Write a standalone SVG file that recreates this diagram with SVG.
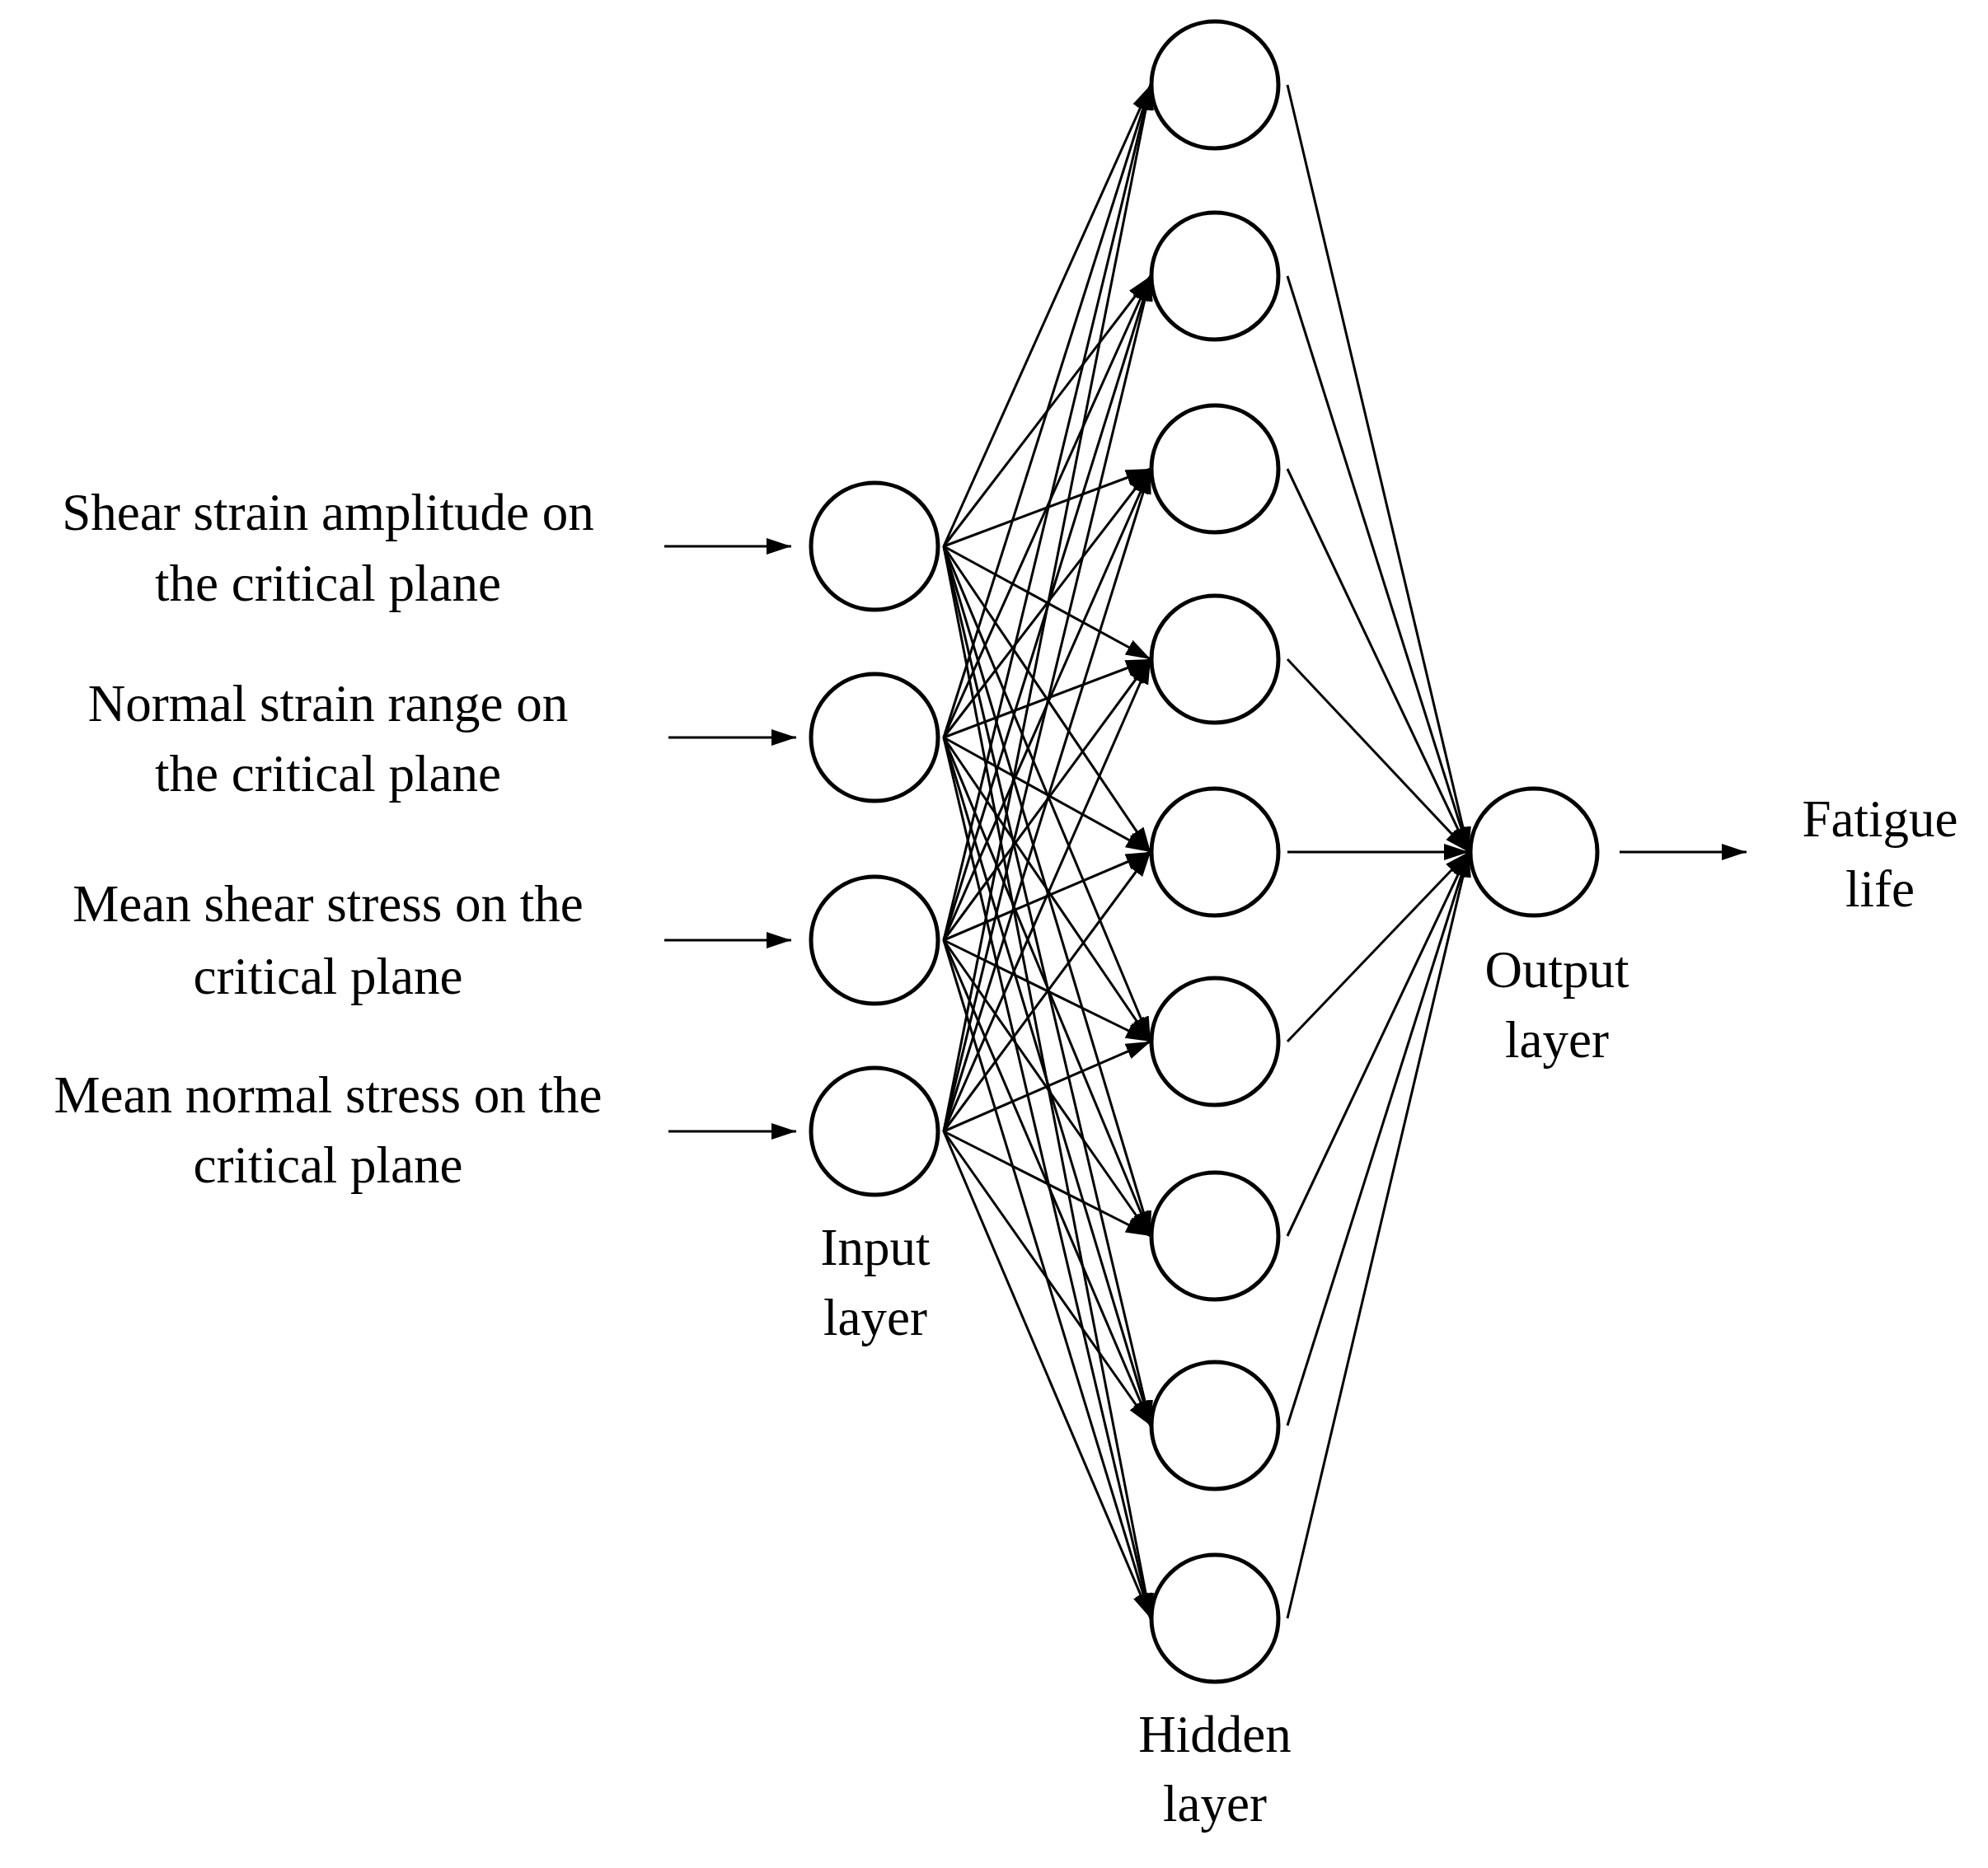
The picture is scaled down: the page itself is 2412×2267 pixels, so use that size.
<svg xmlns="http://www.w3.org/2000/svg" width="2412" height="2267" viewBox="0 0 2412 2267">
<style>
.n{fill:#fff;stroke:#000;stroke-width:5}
.c line{stroke:#000;stroke-width:3;marker-end:url(#ah)}
text{font-family:"Liberation Serif","Times New Roman",serif;font-size:63px;fill:#000;text-anchor:middle}
</style>
<defs><marker id="ah" markerUnits="userSpaceOnUse" markerWidth="32" markerHeight="22" refX="30" refY="10" orient="auto"><path d="M0,0 L30,10 L0,20 z" fill="#000"/></marker></defs>
<rect width="2412" height="2267" fill="#fff"/>
<g class="c" id="connectors">
<line x1="806" y1="663" x2="960" y2="663"/>
<line x1="811" y1="895" x2="966" y2="895"/>
<line x1="806" y1="1141" x2="960" y2="1141"/>
<line x1="811" y1="1373" x2="966" y2="1373"/>
<line x1="1965" y1="1034" x2="2119" y2="1034"/>
<line x1="1145" y1="663" x2="1396" y2="103"/><line x1="1145" y1="663" x2="1396" y2="335"/><line x1="1145" y1="663" x2="1396" y2="569"/><line x1="1145" y1="663" x2="1396" y2="800"/><line x1="1145" y1="663" x2="1396" y2="1034"/><line x1="1145" y1="663" x2="1396" y2="1264"/><line x1="1145" y1="663" x2="1396" y2="1500"/><line x1="1145" y1="663" x2="1396" y2="1730"/><line x1="1145" y1="663" x2="1396" y2="1964"/>
<line x1="1145" y1="895" x2="1396" y2="103"/><line x1="1145" y1="895" x2="1396" y2="335"/><line x1="1145" y1="895" x2="1396" y2="569"/><line x1="1145" y1="895" x2="1396" y2="800"/><line x1="1145" y1="895" x2="1396" y2="1034"/><line x1="1145" y1="895" x2="1396" y2="1264"/><line x1="1145" y1="895" x2="1396" y2="1500"/><line x1="1145" y1="895" x2="1396" y2="1730"/><line x1="1145" y1="895" x2="1396" y2="1964"/>
<line x1="1145" y1="1141" x2="1396" y2="103"/><line x1="1145" y1="1141" x2="1396" y2="335"/><line x1="1145" y1="1141" x2="1396" y2="569"/><line x1="1145" y1="1141" x2="1396" y2="800"/><line x1="1145" y1="1141" x2="1396" y2="1034"/><line x1="1145" y1="1141" x2="1396" y2="1264"/><line x1="1145" y1="1141" x2="1396" y2="1500"/><line x1="1145" y1="1141" x2="1396" y2="1730"/><line x1="1145" y1="1141" x2="1396" y2="1964"/>
<line x1="1145" y1="1373" x2="1396" y2="103"/><line x1="1145" y1="1373" x2="1396" y2="335"/><line x1="1145" y1="1373" x2="1396" y2="569"/><line x1="1145" y1="1373" x2="1396" y2="800"/><line x1="1145" y1="1373" x2="1396" y2="1034"/><line x1="1145" y1="1373" x2="1396" y2="1264"/><line x1="1145" y1="1373" x2="1396" y2="1500"/><line x1="1145" y1="1373" x2="1396" y2="1730"/><line x1="1145" y1="1373" x2="1396" y2="1964"/>
<line x1="1562" y1="103" x2="1782" y2="1034"/><line x1="1562" y1="335" x2="1782" y2="1034"/><line x1="1562" y1="569" x2="1782" y2="1034"/><line x1="1562" y1="800" x2="1782" y2="1034"/><line x1="1562" y1="1034" x2="1782" y2="1034"/><line x1="1562" y1="1264" x2="1782" y2="1034"/><line x1="1562" y1="1500" x2="1782" y2="1034"/><line x1="1562" y1="1730" x2="1782" y2="1034"/><line x1="1562" y1="1964" x2="1782" y2="1034"/>
</g>
<g id="in1"><circle class="n" cx="1061" cy="663" r="77"/></g>
<g id="in2"><circle class="n" cx="1061" cy="895" r="77"/></g>
<g id="in3"><circle class="n" cx="1061" cy="1141" r="77"/></g>
<g id="in4"><circle class="n" cx="1061" cy="1373" r="77"/></g>
<g id="h1"><circle class="n" cx="1474" cy="103" r="77"/></g>
<g id="h2"><circle class="n" cx="1474" cy="335" r="77"/></g>
<g id="h3"><circle class="n" cx="1474" cy="569" r="77"/></g>
<g id="h4"><circle class="n" cx="1474" cy="800" r="77"/></g>
<g id="h5"><circle class="n" cx="1474" cy="1034" r="77"/></g>
<g id="h6"><circle class="n" cx="1474" cy="1264" r="77"/></g>
<g id="h7"><circle class="n" cx="1474" cy="1500" r="77"/></g>
<g id="h8"><circle class="n" cx="1474" cy="1730" r="77"/></g>
<g id="h9"><circle class="n" cx="1474" cy="1964" r="77"/></g>
<g id="out"><circle class="n" cx="1861" cy="1034" r="77"/></g>
<g id="labels">
<text x="398" y="643">Shear strain amplitude on</text><text x="398" y="729">the critical plane</text>
<text x="398" y="875">Normal strain range on</text><text x="398" y="960">the critical plane</text>
<text x="398" y="1118">Mean shear stress on the</text><text x="398" y="1206">critical plane</text>
<text x="398" y="1350">Mean normal stress on the</text><text x="398" y="1435">critical plane</text>
<text x="1062" y="1535">Input</text><text x="1062" y="1620">layer</text>
<text x="1474" y="2126">Hidden</text><text x="1474" y="2210">layer</text>
<text x="1889" y="1198">Output</text><text x="1889" y="1283">layer</text>
<text x="2281" y="1015">Fatigue</text><text x="2281" y="1100">life</text>
</g>
</svg>
